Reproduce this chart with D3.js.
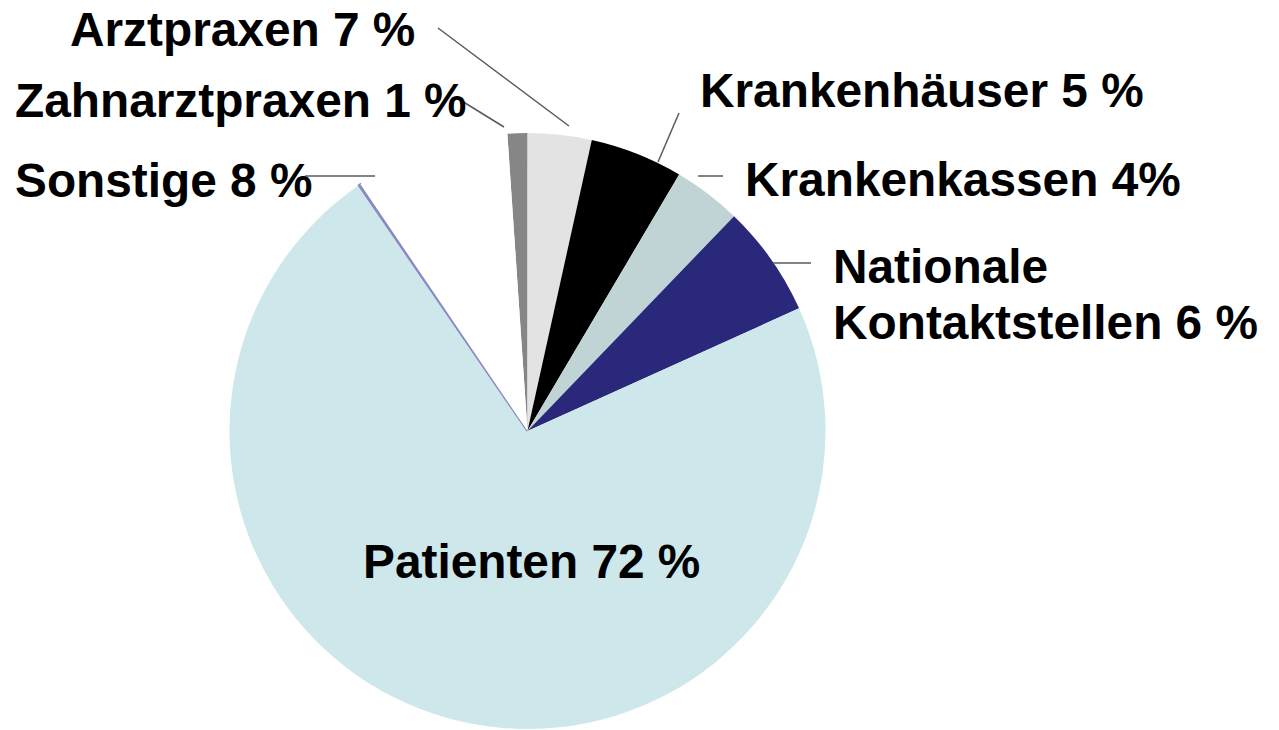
<!DOCTYPE html>
<html>
<head>
<meta charset="utf-8">
<script src="https://cdn.jsdelivr.net/npm/d3@7"></script>
<style>
  html, body { margin: 0; padding: 0; background: #fff; }
  text { font-family: "Liberation Sans", Arial, sans-serif; font-weight: bold; fill: #000; }
</style>
</head>
<body>
<div id="chart"></div>
<script>
// slices in clockwise order, starting just left of 12 o'clock
var categories = ["Zahnarztpraxen", "Arztpraxen", "Krankenhäuser", "Krankenkassen",
                  "Nationale Kontaktstellen", "Patienten", "Rest", "Sonstige"]
var shares = [1.08, 3.46, 5.04, 3.69, 6.06, 72.2, 0.1, 8.4]
var labels = ["Zahnarztpraxen 1 %", "Arztpraxen 7 %", "Krankenhäuser 5 %", "Krankenkassen 4%",
              "Nationale|Kontaktstellen 6 %", "Patienten 72 %", "", "Sonstige 8 %"]

var palette = ["#868686", "#e3e3e3", "#000000", "#c0d4d6", "#29287a", "#cde7eb", "#8a89c0", "#ffffff"]

var width = 1279, height = 730
var cx = 527.5, cy = 431, radius = 298
var start = -3.88 * Math.PI / 180

var color = d3.scaleOrdinal().domain(categories).range(palette)

var svg = d3.select('#chart').append('svg')
  .attr('width', width)
  .attr('height', height)

var pie = d3.pie()
  .sort(null)
  .value(d => d.share)
  .startAngle(start)
  .endAngle(start + 2 * Math.PI)

var arc = d3.arc().innerRadius(0).outerRadius(radius)

var slices = pie(categories.map((c, i) => ({name: c, share: shares[i], label: labels[i]})))

svg.append('g')
  .attr('transform', 'translate(' + cx + ',' + cy + ')')
  .selectAll('path')
  .data(slices)
  .enter()
  .append('path')
  .attr('d', arc)
  .attr('fill', d => color(d.data.name))
  .attr('stroke', d => d.data.name == "Rest" ? color(d.data.name) : 'none')
  .attr('stroke-width', 2.2)

// leader lines (x1,y1 at label, x2,y2 near slice)
var leaders = [
  [438, 28, 569, 126],
  [457, 98, 504, 127],
  [305, 176, 375, 176],
  [679, 113, 658, 162],
  [698, 176, 723, 176],
  [773, 263, 811, 263]
]
svg.append('g').selectAll('line')
  .data(leaders)
  .enter()
  .append('line')
  .attr('x1', d => d[0]).attr('y1', d => d[1])
  .attr('x2', d => d[2]).attr('y2', d => d[3])
  .attr('stroke', '#5a5a5a')
  .attr('stroke-width', 1.5)

// label placement
var labelPos = {
  "Zahnarztpraxen": [15, 117],
  "Arztpraxen": [70, 46],
  "Krankenhäuser": [700, 107],
  "Krankenkassen": [745, 196],
  "Nationale Kontaktstellen": [833, 283],
  "Patienten": [363, 578],
  "Sonstige": [15, 197]
}

slices.forEach(function(d){
  if(!d.data.label) return
  var p = labelPos[d.data.name]
  var t = svg.append('text')
    .attr('x', p[0])
    .attr('y', p[1])
    .style('font-size', '47.8px')
  d.data.label.split('|').forEach(function(line, i){
    t.append('tspan')
      .attr('x', p[0])
      .attr('dy', i == 0 ? 0 : 56)
      .text(line)
  })
})
</script>
</body>
</html>
